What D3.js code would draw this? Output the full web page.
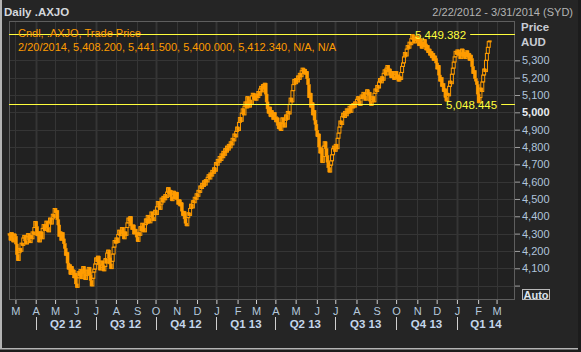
<!DOCTYPE html>
<html><head><meta charset="utf-8">
<script src="https://cdn.jsdelivr.net/npm/d3@7"></script>
<style>
html,body{margin:0;padding:0;background:#1c1c1c;}
svg{display:block;}
text{font-family:"Liberation Sans",Arial,sans-serif;}
</style></head><body>
<svg id="c" width="581" height="352"></svg>
<script>
// ---------- data ----------
const titleText = "Daily .AXJO";
const rangeText = "2/22/2012 - 3/31/2014 (SYD)";
const legendLines = ["Cndl, .AXJO, Trade Price",
  "2/20/2014, 5,408.200, 5,441.500, 5,400.000, 5,412.340, N/A, N/A"];
const axisTitles = ["Price", "AUD"];
const yTicks = [4000,4100,4200,4300,4400,4500,4600,4700,4800,4900,5000,5100,5200,5300];
const yTickLabels = ["","4,100","4,200","4,300","4,400","4,500","4,600","4,700","4,800","4,900","5,000","5,100","5,200","5,300"];
const monthLetters = ["J","F","M","A","M","J","J","A","S","O","N","D"];
const refLevels = [5449.382, 5048.445];
const refLabels = ["5,449.382", "5,048.445"];
const startDate = new Date(2012, 1, 22);
const endDate = new Date(2014, 2, 31);
const firstOpen = 4300;

const closes2012Q1 = [4290,4262,4305,4280,4252,4298,
  4285,4240,4180,4145,4190,4215,4198,4245,4232,4275,4290,4258,4240,4282,4300,4262,4248,4290,4270,4310,4296,4335];
const closes2012Q2 = [4370,4340,4288,4310,4252,4285,4310,4270,4330,4352,4318,4345,4372,4336,4310,4366,4390,4355,4385,4412,4395,
  4445,4420,4432,4380,4350,4285,4310,4262,4305,4270,4242,4215,4175,4190,4130,4095,4120,4065,4110,4078,4090,4045,4070,
  4010,3990,4045,4080,4055,4092,4040,4075,4110,4068,4035,4058,4090,4065,4105,4060,4030,3998,4042,4078,4095];
const closes2012Q3 = [4125,4160,4138,4170,4120,4090,4105,4142,4115,4085,4110,4155,4130,4188,4205,4160,4125,4098,4140,4182,4222,4260,
  4245,4275,4250,4295,4320,4288,4305,4335,4300,4270,4310,4290,4335,4362,4390,4372,4398,4345,4325,4350,4298,4325,4305,
  4280,4255,4305,4290,4340,4315,4360,4332,4310,4352,4385,4360,4405,4388,4362,4398,4425,4395,4375,4410];
const closes2012Q4 = [4435,4410,4455,4485,4462,4440,4470,4505,4482,4515,4495,4525,4508,4540,4565,4530,4550,4512,4490,4528,4545,4502,4520,
  4538,4495,4470,4495,4460,4478,4430,4405,4428,4385,4360,4345,4392,4420,4405,4445,4470,4448,4490,4478,4510,4498,
  4530,4515,4550,4538,4575,4560,4590,4572,4605,4580,4612,4598,4625,4640,4615,4650,4632,4665,4648,4680,4660];
const closes2013Q1 = [4710,4695,4728,4712,4745,4722,4760,4738,4775,4752,4790,4770,4805,4782,4815,4795,4830,4812,4850,4835,4875,4858,4890,
  4915,4895,4942,4970,4948,4995,5020,4985,5035,5060,5025,5090,5055,5030,5070,5045,5095,5110,5075,5095,
  5070,5105,5085,5120,5098,5135,5150,5118,5160,5135,5168,5105,5060,5020,4995,5030,4975,5010,4985,4960,4998];
const closes2013Q2 = [4975,4945,4968,4925,4905,4940,4895,4935,4968,4940,4915,4955,4985,4960,5005,4990,5045,5082,5060,5125,5160,5190,
  5165,5195,5175,5210,5190,5225,5205,5240,5255,5225,5248,5220,5235,5195,5160,5085,5110,5030,5055,4985,5010,4955,4930,
  4895,4860,4875,4800,4765,4790,4710,4745,4805,4830,4790,4750,4712,4680,4655,4695,4720,4755,4790,4805];
const closes2013Q3 = [4775,4815,4790,4850,4880,4915,4950,4930,4975,4995,4970,5005,4980,5020,4995,5010,5035,5000,5040,5025,5050,5030,5060,
  5045,5075,5090,5065,5040,5080,5100,5082,5115,5095,5070,5110,5130,5100,5115,5065,5040,5075,5090,5060,5110,5135,
  5120,5155,5140,5175,5195,5170,5205,5185,5225,5245,5215,5255,5270,5235,5250,5215,5200,5235,5205,5190,5218];
const closes2013Q4 = [5235,5195,5215,5180,5205,5190,5230,5265,5285,5320,5345,5325,5365,5385,5370,5405,5390,5425,5448,5420,5400,5430,5415,
  5440,5410,5385,5425,5395,5370,5405,5380,5420,5395,5360,5385,5345,5365,5330,5350,5315,5340,5300,5325,5310,
  5285,5250,5270,5215,5180,5200,5150,5165,5120,5135,5085,5065,5110,5095,5150,5180,5165,5220,5255,5290,5320,5352];
const closes2014Q1 = [5335,5360,5330,5345,5310,5340,5365,5325,5345,5310,5335,5355,5320,5340,5300,5330,5310,5265,5225,5240,5195,5180,5160,
  5105,5055,5085,5140,5120,5175,5215,5250,5235,5300,5340,5375,5408.2,5412.34];

// ---------- build ----------
const closes = [].concat(closes2012Q1, closes2012Q2, closes2012Q3, closes2012Q4,
  closes2013Q1, closes2013Q2, closes2013Q3, closes2013Q4, closes2014Q1);
const days = d3.timeDay.range(startDate, d3.timeDay.offset(endDate, 1)).filter(d => d.getDay() % 6 !== 0);
const N = days.length;
const bars = closes.map((c, i) => ({i, o: i === 0 ? firstOpen : closes[i - 1], c}));

const svg = d3.select("#c");
const L = 9, R = 515, T = 21, B = 300;
const x = d3.scaleLinear().domain([-0.5, N - 0.5]).range([L, R]);
const y = d3.scaleLinear().domain([4000, 5400]).range([285.6, 43.0]);

// frame
svg.append("rect").attr("x", 0).attr("y", 0).attr("width", 578).attr("height", 349).attr("fill", "#252525");
svg.append("rect").attr("x", 0).attr("y", 0).attr("width", 2).attr("height", 349).attr("fill", "#b4b4b4");
svg.append("rect").attr("x", 0).attr("y", 348).attr("width", 578).attr("height", 1.5).attr("fill", "#b4b4b4");
svg.append("rect").attr("x", L).attr("y", T).attr("width", R - L).attr("height", B - T).attr("fill", "#212121");

// month / quarter starts
const monthStarts = [];
for (let i = 1; i < N; i++) if (days[i].getMonth() !== days[i - 1].getMonth()) monthStarts.push(i);
const quarterStarts = monthStarts.filter(i => days[i].getMonth() % 3 === 0);

const grid = svg.append("g");
grid.selectAll(".hg").data(yTicks).join("line")
  .attr("x1", L).attr("x2", R).attr("y1", d => Math.round(y(d)) + 0.5).attr("y2", d => Math.round(y(d)) + 0.5)
  .attr("stroke", "#353535");
grid.selectAll(".vg").data(monthStarts).join("line")
  .attr("x1", d => Math.round(x(d + 0.5)) + 0.5).attr("x2", d => Math.round(x(d + 0.5)) + 0.5)
  .attr("y1", T).attr("y2", B)
  .attr("stroke", "#353535").attr("stroke-width", d => days[d].getMonth() % 3 === 0 ? 2 : 1);

// plot border
svg.append("rect").attr("x", L + 0.5).attr("y", T + 0.5).attr("width", R - L - 1).attr("height", B - T - 1)
  .attr("fill", "none").attr("stroke", "#5e5e5e");

// candles
const orange = "#ff9c00";
const cg = svg.append("g");
cg.selectAll("rect").data(bars).join("rect")
  .attr("x", d => x(d.i) - 1.5)
  .attr("width", 3)
  .attr("y", d => y(Math.max(d.o, d.c)))
  .attr("height", d => Math.max(1, Math.abs(y(d.o) - y(d.c))))
  .attr("fill", d => d.c >= d.o ? "none" : orange)
  .attr("stroke", orange).attr("stroke-width", d => d.c >= d.o ? 1 : 0.5);

// reference levels
const yellow = "#ffff3c";
const labelX = [415, 446];
refLevels.forEach((v, k) => {
  const yy = Math.round(y(v)) + 0.5;
  const t = svg.append("text").attr("x", labelX[k]).attr("y", yy + 4).attr("fill", yellow)
    .attr("font-size", 11.5).text(refLabels[k]);
  const w = t.node().getComputedTextLength();
  svg.insert("line", "text").attr("x1", L).attr("x2", labelX[k] - 4).attr("y1", yy).attr("y2", yy)
    .attr("stroke", yellow).attr("stroke-width", 1);
  svg.insert("line", "text").attr("x1", labelX[k] + w + 4).attr("x2", R).attr("y1", yy).attr("y2", yy)
    .attr("stroke", yellow).attr("stroke-width", 1);
});

// legend
svg.selectAll(".leg").data(legendLines).join("text")
  .attr("x", 18).attr("y", (d, k) => 37 + k * 13.5).attr("fill", orange).attr("font-size", 11).text(d => d);

// title
svg.append("text").attr("x", 4).attr("y", 16).attr("fill", "#d4d8dc").attr("font-size", 11.5)
  .attr("font-weight", "bold").text(titleText);
svg.append("text").attr("x", 573).attr("y", 16).attr("text-anchor", "end").attr("fill", "#b4b4b4")
  .attr("font-size", 11).text(rangeText);

// y axis
const yAxis = d3.axisRight(y).tickValues(yTicks).tickSize(5).tickPadding(2)
  .tickFormat((d, k) => yTickLabels[k]);
const ya = svg.append("g").attr("transform", `translate(${R},0)`).call(yAxis);
ya.select(".domain").remove();
ya.selectAll(".tick line").attr("stroke", "#a0a0a0");
ya.selectAll(".tick text").attr("font-size", 11)
  .attr("font-family", "Liberation Sans, Arial, sans-serif")
  .attr("font-weight", d => d === 5000 ? "bold" : "normal")
  .attr("fill", d => d === 5000 ? "#e8ecf0" : "#b0c4dc");
svg.selectAll(".at").data(axisTitles).join("text")
  .attr("x", 521).attr("y", (d, k) => 31 + k * 15).attr("fill", "#c8ccd4")
  .attr("font-size", 11.5).attr("font-weight", "bold").text(d => d);

// Auto box
svg.append("rect").attr("x", 522.5).attr("y", 289.5).attr("width", 27).attr("height", 10)
  .attr("fill", "#262626").attr("stroke", "#b8b8b8");
svg.append("text").attr("x", 536).attr("y", 298.5).attr("text-anchor", "middle").attr("fill", "#dde4ec")
  .attr("font-size", 11).attr("font-weight", "bold").text("Auto");

// x axis (months)
const xAxis = d3.axisBottom(x).tickValues(monthStarts.map(i => i + 0.5)).tickSize(4).tickPadding(3)
  .tickFormat((d, k) => monthLetters[days[monthStarts[k]].getMonth()]);
const xa = svg.append("g").attr("transform", `translate(0,${B})`).call(xAxis);
xa.select(".domain").remove();
xa.selectAll(".tick line").attr("stroke", "#d0d0d0");
xa.selectAll(".tick text").attr("fill", "#b4c8dc").attr("font-size", 11)
  .attr("font-family", "Liberation Sans, Arial, sans-serif");

// quarters
const qg = svg.append("g");
qg.selectAll("line").data(quarterStarts).join("line")
  .attr("x1", d => Math.round(x(d + 0.5)) + 0.5).attr("x2", d => Math.round(x(d + 0.5)) + 0.5)
  .attr("y1", 317).attr("y2", 330).attr("stroke", "#d0d0d0");
qg.selectAll("text").data(quarterStarts).join("text")
  .attr("x", (d, k) => (x(d + 0.5) + (k + 1 < quarterStarts.length ? x(quarterStarts[k + 1] + 0.5) : R)) / 2)
  .attr("y", 328).attr("text-anchor", "middle").attr("fill", "#c4d6ec")
  .attr("font-size", 11.5).attr("font-weight", "bold")
  .text(d => "Q" + (Math.floor(days[d].getMonth() / 3) + 1) + " " + String(days[d].getFullYear()).slice(2));
</script>
</body></html>
